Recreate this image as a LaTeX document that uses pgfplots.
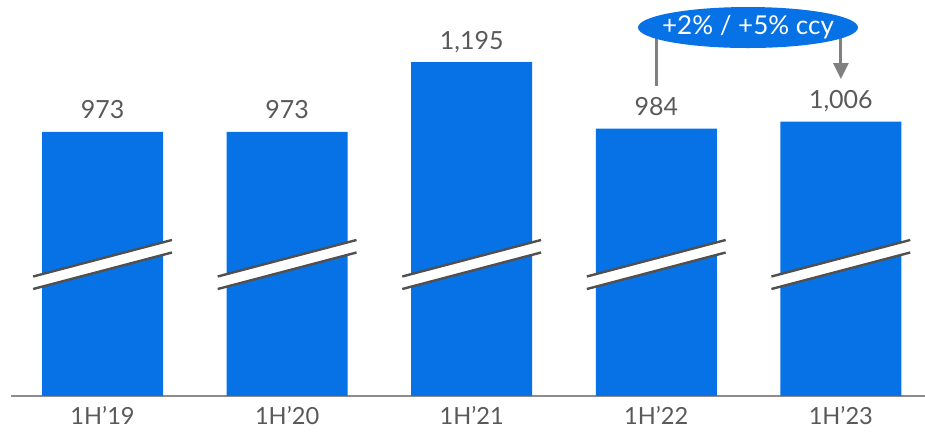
\documentclass[border=0pt]{standalone}
\usepackage{pgfplots}
\pgfplotsset{compat=1.18}
\usepackage{fontspec}
\setmainfont{Lato}
\usetikzlibrary{arrows.meta}
\definecolor{barblue}{RGB}{6,114,230}
\definecolor{txtgray}{RGB}{89,89,89}
\definecolor{axgray}{RGB}{140,140,140}
\definecolor{brkgray}{RGB}{80,80,80}
\definecolor{arrgray}{RGB}{128,128,128}
\begin{document}
\begin{tikzpicture}
\begin{axis}[
  scale only axis, width=457pt, height=198pt,
  xmin=-0.496, xmax=4.456, ymin=135.7, ymax=1391.7,
  axis x line*=bottom, axis y line=none,
  x axis line style={draw=axgray, line width=1pt, -},
  ytick=\empty,
  xtick={0,1,2,3,4},
  xticklabels={1H’19,1H’20,1H’21,1H’22,1H’23},
  major tick length=0pt,
  xticklabel style={anchor=base, yshift=-14.5pt, font=\fontsize{11.8}{13}\selectfont, text=txtgray},
  ybar, bar width=60.5pt,
  point meta=explicit symbolic,
  nodes near coords,
  nodes near coords style={anchor=base, yshift=6.5pt, font=\fontsize{12.5}{14}\selectfont, text=txtgray},
  clip=false,
]
\addplot[fill=barblue, draw=none] coordinates {
  (0,973)[973] (1,973)[973] (2,1195)[1,195] (3,984)[984] (4,1006)[1,006]
};
\pgfplotsinvokeforeach{0,1,2,3,4}{
  \fill[white] (axis cs:{#1-0.376},514.7) -- (axis cs:{#1+0.376},630.5) -- (axis cs:{#1+0.376},590.8) -- (axis cs:{#1-0.376},475) -- cycle;
  \draw[brkgray, line width=1.2pt] (axis cs:{#1-0.376},514.7) -- (axis cs:{#1+0.376},630.5);
  \draw[brkgray, line width=1.2pt] (axis cs:{#1-0.376},475) -- (axis cs:{#1+0.376},590.8);
}
\draw[arrgray, line width=1.5pt] (axis cs:3,1304) -- (axis cs:3,1118.9);
\draw[arrgray, line width=1.5pt, -{Triangle[length=8pt,width=7.5pt]}] (axis cs:4,1304) -- (axis cs:4,1141);
\fill[barblue] (axis cs:3.497,1304.4) ellipse [x radius=55pt, y radius=10.25pt];
\node[text=white, font=\fontsize{13}{14}\selectfont] at (axis cs:3.497,1304.4) {+2\% / +5\% ccy};
\coordinate (bl) at ([xshift=-5.5pt,yshift=-18pt]rel axis cs:0,0);
\coordinate (tr) at (rel axis cs:1,1);
\end{axis}
\pgfresetboundingbox
\useasboundingbox (bl) rectangle (tr);
\end{tikzpicture}
\end{document}
